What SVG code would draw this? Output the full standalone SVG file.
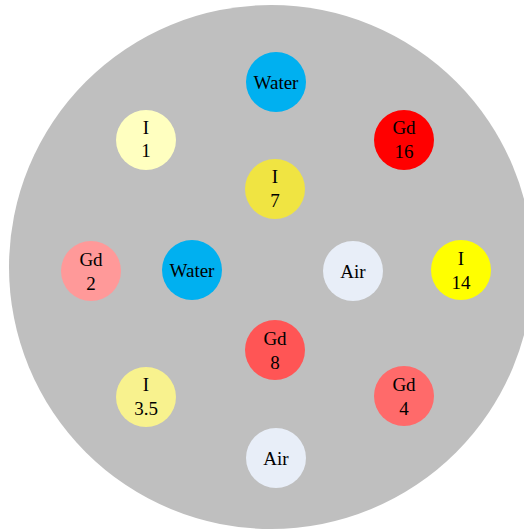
<svg xmlns="http://www.w3.org/2000/svg" width="524" height="530" viewBox="0 0 524 530">
<style>
text{font-family:"Liberation Serif","Times New Roman",serif;font-size:19px;fill:#000;text-anchor:middle}
.water{fill:#00B0F0}
.air{fill:#E8EEF8}
</style>
<rect width="524" height="530" fill="#fff"/>
<g id="phantom"><circle cx="271" cy="267" r="262" fill="#BFBFBF"/></g>
<g id="connectors"></g>
<g id="water-top"><circle class="water" cx="276" cy="82" r="30"/><text x="276" y="89">Water</text></g>
<g id="i-1"><circle cx="146" cy="140" r="30" fill="#FFFFC0"/><text x="146" y="134">I</text><text x="146" y="157">1</text></g>
<g id="gd-16"><circle cx="404" cy="140" r="30" fill="#FF0000"/><text x="404" y="134">Gd</text><text x="404" y="158">16</text></g>
<g id="i-7"><circle cx="275" cy="189" r="30" fill="#F0E442"/><text x="275" y="183">I</text><text x="275" y="207">7</text></g>
<g id="gd-2"><circle cx="91" cy="271" r="30" fill="#FF9999"/><text x="91" y="266">Gd</text><text x="91" y="290">2</text></g>
<g id="water-mid"><circle class="water" cx="192" cy="270" r="30"/><text x="192" y="277">Water</text></g>
<g id="air-mid"><circle class="air" cx="353" cy="271" r="30"/><text x="353" y="278">Air</text></g>
<g id="i-14"><circle cx="461" cy="270" r="30" fill="#FFFF00"/><text x="461" y="265">I</text><text x="461" y="289">14</text></g>
<g id="gd-8"><circle cx="275" cy="350" r="30" fill="#FF5555"/><text x="275" y="345">Gd</text><text x="275" y="369">8</text></g>
<g id="i-3-5"><circle cx="146" cy="397" r="30" fill="#F8F28E"/><text x="146" y="391">I</text><text x="146" y="415">3.5</text></g>
<g id="gd-4"><circle cx="404" cy="396" r="30" fill="#FF6A6A"/><text x="404" y="391">Gd</text><text x="404" y="415">4</text></g>
<g id="air-bottom"><circle class="air" cx="276" cy="458" r="30"/><text x="276" y="465">Air</text></g>
</svg>
